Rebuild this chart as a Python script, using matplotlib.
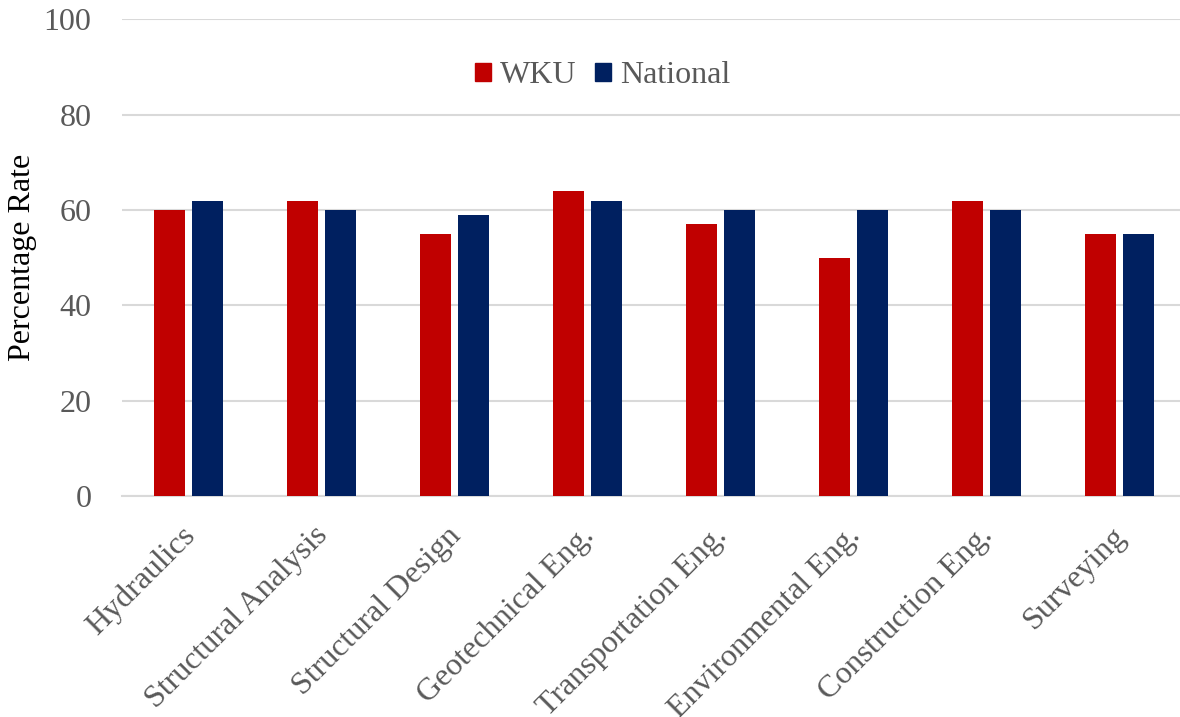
"""
Civil engineering FE exam pass rates: WKU vs national
"""

import matplotlib.pyplot as plt
import numpy as np
from matplotlib.patches import Patch

categories = ['Hydraulics', 'Structural Analysis', 'Structural Design',
              'Geotechnical Eng.', 'Transportation Eng.', 'Environmental Eng.',
              'Construction Eng.', 'Surveying']
wku = [60, 62, 55, 64, 57, 50, 62, 55]
national = [62, 60, 59, 62, 60, 60, 60, 55]
y_ticks = [0, 20, 40, 60, 80, 100]

WKU_COLOR = '#C00000'
NAT_COLOR = '#002060'
TEXT_COLOR = '#595959'

plt.rcParams['font.family'] = ['Liberation Serif', 'DejaVu Serif']

fig = plt.figure(figsize=(11.8, 7.17), dpi=100)
# plot area runs slightly past the right edge of the picture (cropped original)
ax = fig.add_axes([0.1034, 0.308, 0.9017, 0.665])

x = np.arange(len(categories))
width = 0.23
offset = 0.143
ax.bar(x - offset, wku, width, color=WKU_COLOR, zorder=3)
ax.bar(x + offset, national, width, color=NAT_COLOR, zorder=3)

ax.set_xlim(-0.5, len(categories) - 0.5)
ax.set_ylim(0, 100)
ax.set_yticks(y_ticks)
ax.yaxis.grid(True, color='#D9D9D9', linewidth=1.5, zorder=0)
ax.set_axisbelow(True)

for side in ['top', 'right', 'left']:
    ax.spines[side].set_visible(False)
ax.spines['bottom'].set_color('#D9D9D9')
ax.spines['bottom'].set_linewidth(1.5)
ax.tick_params(axis='both', length=0, colors=TEXT_COLOR)
ax.tick_params(axis='y', labelsize=23, pad=22)

# rotated labels end just at the group centre
ax.set_xticks(x - 0.06)
ax.set_xticklabels(categories, rotation=45, ha='right', va='top', rotation_mode='anchor')
ax.tick_params(axis='x', labelsize=23, pad=18)

ax.set_ylabel('Percentage Rate', fontsize=23, color='black')
ax.yaxis.set_label_coords(-0.080, 0.5)

handles = [Patch(color=WKU_COLOR, label='WKU'), Patch(color=NAT_COLOR, label='National')]
ax.legend(handles=handles, loc='center', bbox_to_anchor=(0.4516, 0.882), ncol=2,
          frameon=False, fontsize=23, handlelength=0.5, handleheight=0.5,
          handletextpad=0.28, columnspacing=0.6, labelcolor=TEXT_COLOR)

fig.savefig('out.png', dpi=100)
plt.close(fig)
